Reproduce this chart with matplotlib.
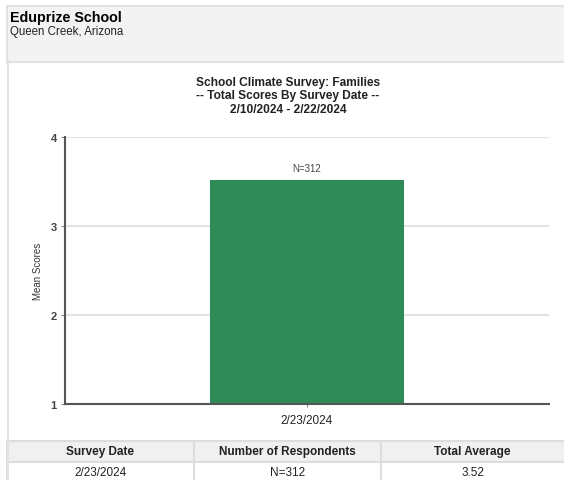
import matplotlib.pyplot as plt
from matplotlib.patches import Rectangle

school = "Eduprize School"
location = "Queen Creek, Arizona"
title_lines = ["School Climate Survey: Families",
               "-- Total Scores By Survey Date --",
               "2/10/2024 - 2/22/2024"]
dates = ["2/23/2024"]
mean_scores = [3.52]
respondents = [312]
table_cols = ["Survey Date", "Number of Respondents", "Total Average"]

W, H = 564, 481
fig = plt.figure(figsize=(W / 100, H / 100), dpi=100)
fig.patch.set_facecolor("white")
plt.rcParams["font.family"] = ["Liberation Sans", "DejaVu Sans"]

def fx(px):
    return px / W

def fy(py):
    return 1 - py / H

# header box
fig.patches.append(Rectangle((fx(7), fy(63)), fx(W), 56 / H, transform=fig.transFigure,
                             facecolor="#f3f3f3", edgecolor="#e2e2e2", lw=1.5))
# left border of the report body
fig.add_artist(plt.Line2D([fx(7.5), fx(7.5)], [0, fy(63)], transform=fig.transFigure,
                          color="#e2e2e2", lw=1.5))
fig.text(fx(10), fy(18), school, fontsize=10.3, fontweight="bold", va="center")
fig.text(fx(10), fy(31.5), location, fontsize=8.3, va="center", color="#222222")

for i, line in enumerate(title_lines):
    fig.text(fx(288), fy(83 + 13.5 * i), line, fontsize=8.6, fontweight="bold",
             ha="center", va="center", color="#222222")

ax = fig.add_axes([fx(65), fy(405), fx(549 - 65), (405 - 138) / H])
x = list(range(len(dates)))
ax.bar(x, mean_scores, width=0.4, bottom=0, color="#2e8b57", zorder=2)
for xi, n, v in zip(x, respondents, mean_scores):
    ax.text(xi, v + 0.08, "N=%d" % n, ha="center", va="bottom", fontsize=7,
            color="#444444")
ax.set_xlim(-0.5, 0.5)
ax.set_ylim(1, 4)
ax.set_yticks([1, 2, 3, 4])
ax.set_xticks(x)
ax.set_xticklabels(dates, fontsize=8.5, color="#222222")
for lab in ax.get_yticklabels():
    lab.set_fontweight("bold")
ax.tick_params(axis="y", labelsize=8, length=3, color="#888888", pad=3, labelcolor="#444444")
ax.tick_params(axis="x", length=2, color="#888888", pad=5)
ax.grid(axis="y", color="#e3e3e3", lw=1.5, zorder=0)
for s in ["top", "right"]:
    ax.spines[s].set_visible(False)
for s in ["left", "bottom"]:
    ax.spines[s].set_color("#555555")
    ax.spines[s].set_linewidth(1.5)
ax.set_ylabel("Mean Scores", fontsize=7, labelpad=5, color="#333333")

# summary table
col_edges = [7, 194, 381, W]
fig.patches.append(Rectangle((fx(7), fy(463)), fx(W), 21 / H, transform=fig.transFigure,
                             facecolor="#f0f0f0", edgecolor="#dddddd", lw=1.5))
fig.patches.append(Rectangle((fx(7), fy(483)), fx(W), 20 / H, transform=fig.transFigure,
                             facecolor="white", edgecolor="#dddddd", lw=1.5))
for e in col_edges[1:-1]:
    fig.add_artist(plt.Line2D([fx(e), fx(e)], [0, fy(442)], transform=fig.transFigure,
                              color="#dddddd", lw=1.5))
row_vals = [dates[0], "N=%d" % respondents[0], "%.2f" % mean_scores[0]]
for i in range(3):
    cx = fx((col_edges[i] + col_edges[i + 1]) / 2)
    fig.text(cx, fy(452), table_cols[i], fontsize=8.5, fontweight="bold", ha="center",
             va="center", color="#222222")
    fig.text(cx, fy(473), row_vals[i], fontsize=8.5, ha="center", va="center",
             color="#222222")

fig.savefig("out.png", dpi=100)
